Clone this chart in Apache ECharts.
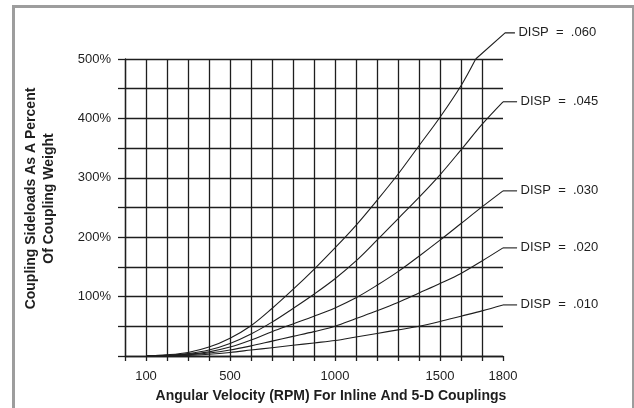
<!DOCTYPE html>
<html>
<head>
<meta charset="utf-8">
<script src="https://cdn.jsdelivr.net/npm/echarts@6/dist/echarts.min.js"></script>
<style>
  html, body { margin: 0; padding: 0; background: #fff; }
  #chart { width: 634px; height: 408px; }
</style>
</head>
<body>
<div id="chart"></div>
<script>
// ---------- DATA ----------
const rpm = [100, 200, 300, 400, 500, 600, 700, 800, 900, 1000, 1100, 1200, 1300, 1400, 1500, 1600, 1700, 1800];
const rpm060 = [100, 200, 300, 400, 500, 600, 700, 800, 900, 1000, 1100, 1200, 1300, 1400, 1500, 1600, 1670];

const disp060 = [0, 2, 6, 15, 30, 51, 80, 112, 146, 182, 220, 262, 306, 354, 402, 455, 500];
const disp045 = [0, 1, 4, 10, 21, 37, 57, 80, 104, 130, 160, 195, 231, 267, 305, 347, 390, 428];
const disp030 = [0, 1, 3, 7, 15, 27, 41, 54, 67, 81, 98, 119, 142, 168, 195, 223, 251, 278];
const disp020 = [0, 0.5, 2, 5, 10, 17, 25, 33, 41, 50, 63, 76, 90, 106, 122, 139, 160, 182];
const disp010 = [0, 0.3, 1, 3, 6, 10, 14, 18, 22, 26, 32, 38, 44, 50, 58, 67, 76, 86];

const dispLabels = ['DISP  =  .060', 'DISP  =  .045', 'DISP  =  .030', 'DISP  =  .020', 'DISP  =  .010'];
const xTickLabels = [100, 500, 1000, 1500, 1800];
const yTickLabels = [100, 200, 300, 400, 500];
const xTitle = 'Angular Velocity (RPM) For Inline And 5-D Couplings';
const yTitle = 'Coupling Sideloads As A Percent\nOf Coupling Weight';

// ---------- STYLE / LAYOUT ----------
const FONT = "'Liberation Sans', Arial, Helvetica, sans-serif";
const INK = '#1e1e1e';
const GRID_W = 1.3;
const LEADER_DX = 67;          // horizontal leader length (rpm units)
const TOP_LEADER = { dx: 140, dy: 44 }; // diagonal leader for top curve (rpm, %)

// main grid: 0..1800 rpm over 378 px, 0..500 % over 297 px
const G = { left: 125, right: 131, top: 59, bottom: 52 };
const X_MAX = 1800, Y_MAX = 500;
// overlay grid with identical scale but wider extent, for leader lines + labels
const X2_MAX = 2000, Y2_MAX = 550;
const plotW = 634 - G.left - G.right, plotH = 408 - G.top - G.bottom;
const G2 = {
  left: G.left,
  right: 634 - G.left - plotW * X2_MAX / X_MAX,
  bottom: G.bottom,
  top: 408 - G.bottom - plotH * Y2_MAX / Y_MAX
};

const curves = [
  { x: rpm060, y: disp060 },
  { x: rpm, y: disp045 },
  { x: rpm, y: disp030 },
  { x: rpm, y: disp020 },
  { x: rpm, y: disp010 }
];

const series = [];
curves.forEach((c, i) => {
  const pts = c.x.map((x, k) => [x, c.y[k]]);
  series.push({
    type: 'line', data: pts, smooth: 0.35, symbol: 'none', silent: true,
    lineStyle: { color: INK, width: 1.1 }, clip: false, z: 3
  });
  const last = pts[pts.length - 1];
  let leader;
  if (i === 0) {
    const mid = [last[0] + TOP_LEADER.dx, last[1] + TOP_LEADER.dy];
    leader = [last, mid, [mid[0] + LEADER_DX * 0.7, mid[1]]];
  } else {
    leader = [last, [last[0] + LEADER_DX, last[1]]];
  }
  const leaderData = leader.map((p, k) => k === leader.length - 1
    ? { value: p, label: { show: true, position: 'right', distance: 3, formatter: dispLabels[i],
        color: INK, fontSize: 13, fontFamily: FONT } }
    : { value: p });
  series.push({
    type: 'line', xAxisIndex: 1, yAxisIndex: 1,
    data: leaderData, smooth: false, silent: true, clip: false,
    symbol: 'circle', symbolSize: 1, showSymbol: true,
    itemStyle: { color: 'rgba(0,0,0,0)' },
    lineStyle: { color: INK, width: 1.1 }, z: 3
  });
});

const xSplitColors = [];
for (let v = 0; v <= X_MAX; v += 100) xSplitColors.push(v === X_MAX ? 'rgba(0,0,0,0)' : INK);

const chart = echarts.init(document.getElementById('chart'), null, { renderer: 'canvas' });
chart.setOption({
  animation: false,
  backgroundColor: '#fff',
  graphic: [{
    type: 'rect', left: 11, top: 4, silent: true,
    shape: { width: 620, height: 430 },
    style: { fill: 'none', stroke: '#9d9d9d', lineWidth: 3 }
  }],
  grid: [
    { left: G.left, right: G.right, top: G.top, bottom: G.bottom, containLabel: false },
    { left: G2.left, right: G2.right, top: G2.top, bottom: G2.bottom, containLabel: false }
  ],
  xAxis: [{
    type: 'value', min: 0, max: X_MAX, interval: 100, gridIndex: 0,
    axisLine: { show: true, lineStyle: { color: INK, width: GRID_W } },
    axisTick: { show: true, length: 5, lineStyle: { color: INK, width: GRID_W } },
    axisLabel: {
      showMinLabel: true, showMaxLabel: true, margin: 14,
      formatter: v => (xTickLabels.includes(v) ? String(v) : ''),
      color: INK, fontSize: 13, fontFamily: FONT
    },
    splitLine: { show: true, lineStyle: { color: xSplitColors, width: GRID_W } },
    name: xTitle, nameLocation: 'middle', nameGap: 33,
    nameTextStyle: { color: INK, fontSize: 14, fontWeight: 'bold', fontFamily: FONT, padding: [0, 0, 0, 34] }
  }, {
    type: 'value', min: 0, max: X2_MAX, gridIndex: 1, show: false
  }],
  yAxis: [{
    type: 'value', min: 0, max: Y_MAX, interval: 50, gridIndex: 0,
    axisLine: { show: true, lineStyle: { color: INK, width: GRID_W } },
    axisTick: { show: true, length: 7, lineStyle: { color: INK, width: GRID_W } },
    axisLabel: {
      margin: 14,
      formatter: v => (yTickLabels.includes(v) ? v + '%' : ''),
      color: INK, fontSize: 13, fontFamily: FONT
    },
    splitLine: { show: true, lineStyle: { color: INK, width: GRID_W } },
    name: yTitle, nameLocation: 'middle', nameGap: 67, nameRotate: 90,
    nameTextStyle: { color: INK, fontSize: 14, fontWeight: 'bold', fontFamily: FONT, lineHeight: 18, padding: [0, 0, 0, 18] }
  }, {
    type: 'value', min: 0, max: Y2_MAX, gridIndex: 1, show: false
  }],
  series: series
});
</script>
</body>
</html>
